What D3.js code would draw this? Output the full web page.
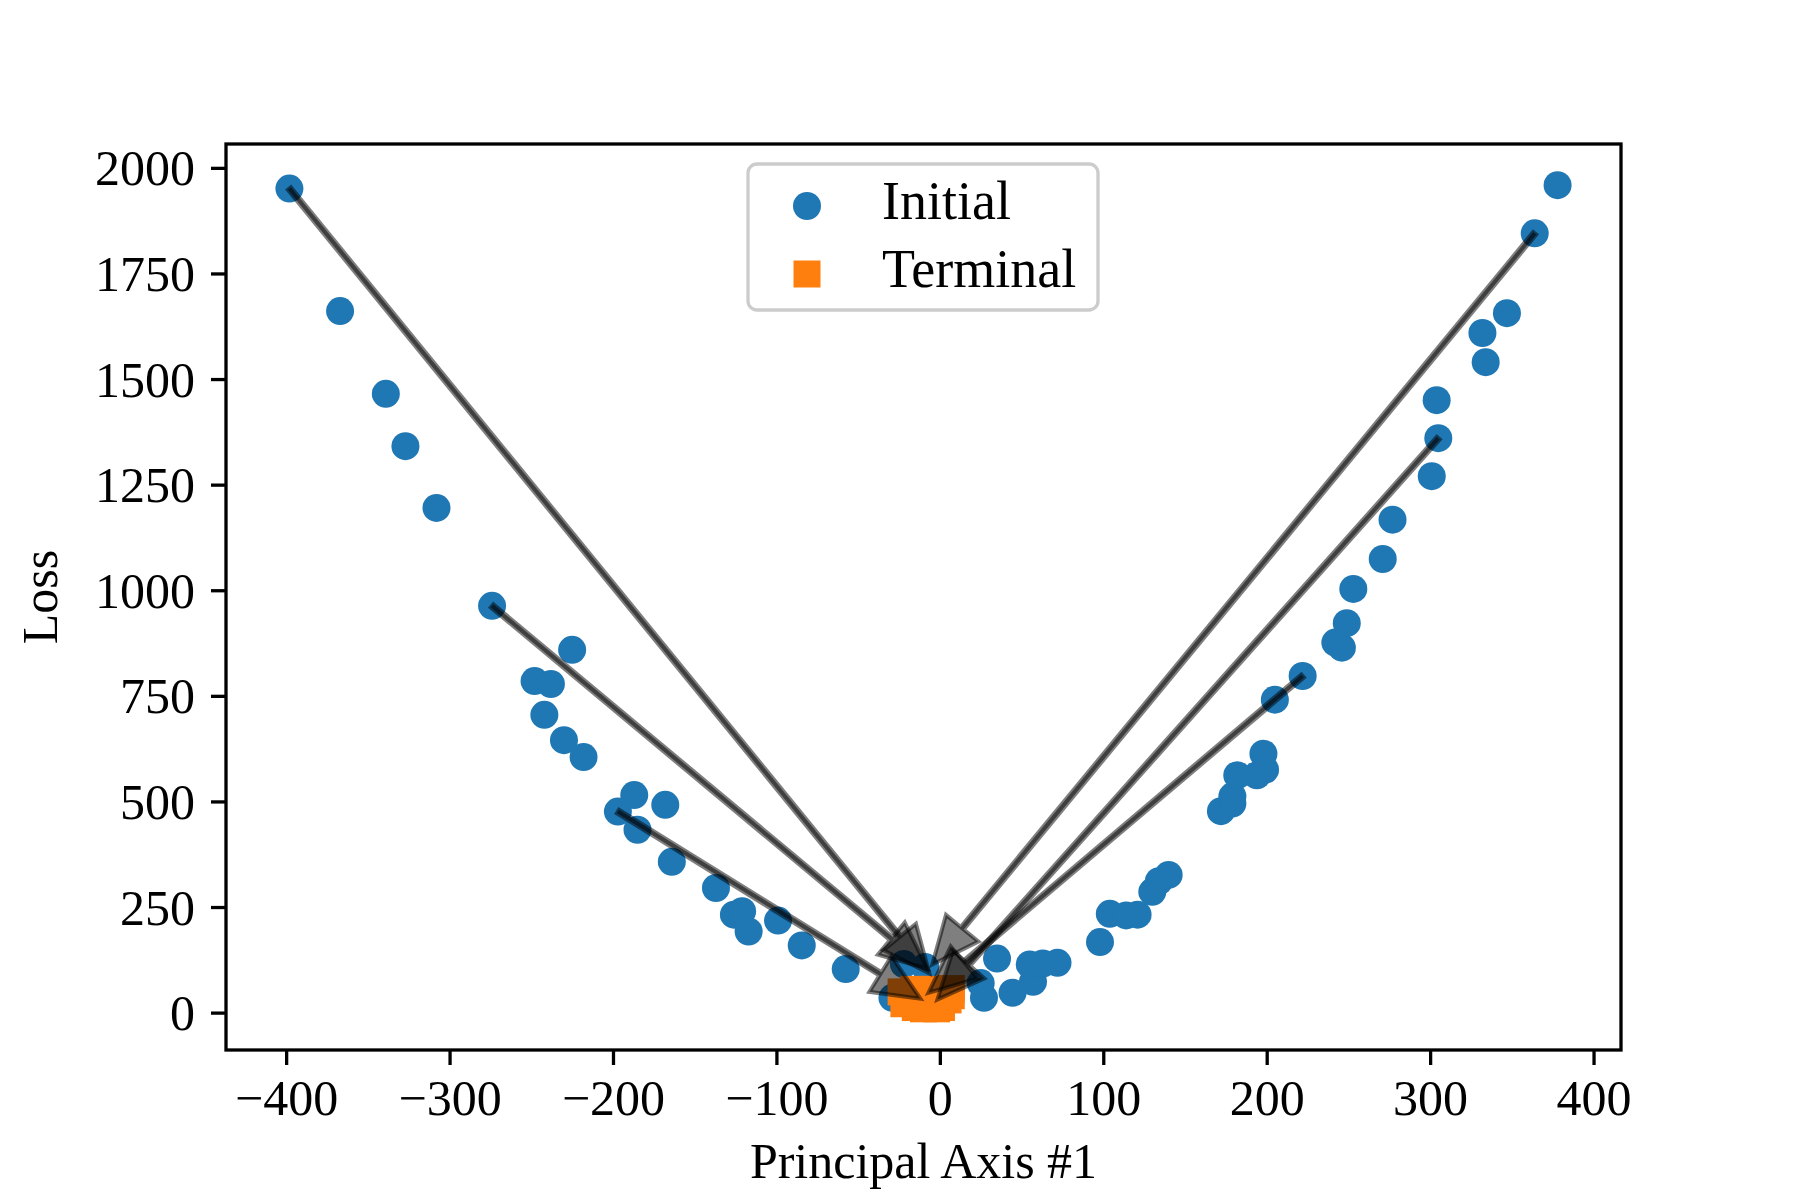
<!DOCTYPE html>
<html>
<head>
<meta charset="utf-8">
<script src="https://cdn.jsdelivr.net/npm/d3@7"></script>
<style>
  body { margin: 0; background: #fff; }
  text { font-family: "Liberation Serif", "Times New Roman", serif; fill: #000; }
</style>
</head>
<body>
<div id="chart"></div>
<script>
//Loss landscape: initial vs terminal points along principal axis #1

//initial points (blue circles)
var initialX = [-398, -367, -339, -327, -308, -274, -225, -248, -238, -242, -230, -218,
  -187, -197, -168, -185, -164, -137, -126, -121, -117, -99, -84.5, -57.6, -29, -22, -9,
  27, 25, 35, 44.5, 57, 55, 63, 72, 98, 104, 114, 121, 130, 134, 140,
  172, 179, 179, 182, 194, 198, 199, 205, 222, 242, 246, 249, 253, 271, 277,
  301, 305, 304, 334, 332, 347, 364, 378];
var initialY = [1951, 1661, 1465, 1341, 1195, 963, 859, 785, 778, 705, 645, 605,
  515, 476, 492, 433, 357, 295, 232, 240, 192, 218, 159, 103, 35, 115, 108,
  35, 70, 128, 47, 73, 114, 116, 118, 167, 234, 230, 232, 286, 311, 326,
  477, 495, 512, 562, 562, 613, 575, 741, 797, 876, 864, 922, 1003, 1074, 1167,
  1270, 1360, 1450, 1540, 1609, 1656, 1845, 1959];

//terminal points (orange squares)
var terminalX = [-23.7, -22, -18, -15, -12, -10, -8, -6, -3, -2, 0, 3, 5, 7, 7, -16, -5, 1];
var terminalY = [49, 21, 35, 12, 45, 9, 28, 15, 40, 9, 22, 50, 30, 57, 40, 55, 55, 12];

//arrows from initial to terminal
var arrowStartX = [-398, -274, -197, 364, 305, 222];
var arrowStartY = [1951, 963, 476, 1845, 1360, 797];
var arrowEndX = [-6.4, -7.6, -11.9, -4.6, -1.5, -7];
var arrowEndY = [93, 104, 33, 114, 31, 47];

var xTicks = [-400, -300, -200, -100, 0, 100, 200, 300, 400];
var yTicks = [0, 250, 500, 750, 1000, 1250, 1500, 1750, 2000];

var legendLabels = ["Initial", "Terminal"];

//figure config
var width = 1800, height = 1200;
var margin = {left: 226, right: 179, top: 144, bottom: 150};
var fontSize = 50;
var blue = "#1f77b4", orange = "#ff7f0e";
var markerR = 14;
var squareSide = 27;

var svg = d3.select("#chart").append("svg")
  .attr("width", width)
  .attr("height", height);

//matplotlib style 5% margins around the data
function padded(vals) {
  var lo = d3.min(vals), hi = d3.max(vals), pad = (hi - lo) * 0.05;
  return [lo - pad, hi + pad];
}
var allX = initialX.concat(terminalX), allY = initialY.concat(terminalY);

var x = d3.scaleLinear().domain(padded(allX)).range([margin.left, width - margin.right]);
var y = d3.scaleLinear().domain(padded(allY)).range([height - margin.bottom, margin.top]);

var minus = function(v) { return String(v).replace("-", "\u2212"); };

//scatter: initial
svg.append("g").selectAll("circle")
  .data(d3.range(initialX.length))
  .enter().append("circle")
  .attr("cx", function(i) { return x(initialX[i]); })
  .attr("cy", function(i) { return y(initialY[i]); })
  .attr("r", markerR)
  .attr("fill", blue);

//scatter: terminal
svg.append("g").selectAll("rect")
  .data(d3.range(terminalX.length))
  .enter().append("rect")
  .attr("x", function(i) { return x(terminalX[i]) - squareSide / 2; })
  .attr("y", function(i) { return y(terminalY[i]) - squareSide / 2; })
  .attr("width", squareSide)
  .attr("height", squareSide)
  .attr("fill", orange);

//arrows, built as one polygon each (shaft + head) in pixel space
var headLen = 47, headHalf = 21, shaftHalf = 2;
function arrowPath(i) {
  var sx = x(arrowStartX[i]), sy = y(arrowStartY[i]);
  var tx = x(arrowEndX[i]), ty = y(arrowEndY[i]);
  var dx = tx - sx, dy = ty - sy, len = Math.sqrt(dx * dx + dy * dy);
  var ux = dx / len, uy = dy / len, px = -uy, py = ux;
  var bx = tx - ux * headLen, by = ty - uy * headLen;
  var pts = [
    [sx + px * shaftHalf, sy + py * shaftHalf],
    [bx + px * shaftHalf, by + py * shaftHalf],
    [bx + px * headHalf, by + py * headHalf],
    [tx, ty],
    [bx - px * headHalf, by - py * headHalf],
    [bx - px * shaftHalf, by - py * shaftHalf],
    [sx - px * shaftHalf, sy - py * shaftHalf]
  ];
  return "M" + pts.map(function(p) { return p[0] + "," + p[1]; }).join("L") + "Z";
}
svg.append("g").selectAll("path")
  .data(d3.range(arrowStartX.length))
  .enter().append("path")
  .attr("d", arrowPath)
  .attr("fill", "rgba(0,0,0,0.5)")
  .attr("stroke", "rgba(0,0,0,0.5)")
  .attr("stroke-width", 4);

//axes
var xAxis = svg.append("g")
  .attr("transform", "translate(0," + (height - margin.bottom) + ")")
  .call(d3.axisBottom(x).tickValues(xTicks).tickSize(15).tickPadding(14).tickFormat(minus));
var yAxis = svg.append("g")
  .attr("transform", "translate(" + margin.left + ",0)")
  .call(d3.axisLeft(y).tickValues(yTicks).tickSize(15).tickPadding(16).tickFormat(minus));

[xAxis, yAxis].forEach(function(ax) {
  ax.select(".domain").remove();
  ax.selectAll(".tick line").attr("stroke", "#000").attr("stroke-width", 3.3);
  ax.selectAll(".tick text")
    .style("font-family", "'Liberation Serif', serif")
    .style("font-size", fontSize + "px");
});
xAxis.selectAll(".tick text").attr("dy", "0.72em");
yAxis.selectAll(".tick text").attr("dy", "0.34em");

//frame
svg.append("rect")
  .attr("x", margin.left)
  .attr("y", margin.top)
  .attr("width", width - margin.left - margin.right)
  .attr("height", height - margin.top - margin.bottom)
  .attr("fill", "none")
  .attr("stroke", "#000")
  .attr("stroke-width", 3.3);

//axis labels
svg.append("text")
  .attr("x", (margin.left + width - margin.right) / 2)
  .attr("y", 1178)
  .attr("text-anchor", "middle")
  .style("font-size", fontSize + "px")
  .text("Principal Axis #1");

svg.append("text")
  .attr("transform", "translate(57," + ((margin.top + height - margin.bottom) / 2) + ") rotate(-90)")
  .attr("text-anchor", "middle")
  .style("font-size", fontSize + "px")
  .text("Loss");

//legend
var legend = svg.append("g");
legend.append("rect")
  .attr("x", 748).attr("y", 164)
  .attr("width", 350).attr("height", 146)
  .attr("rx", 9).attr("ry", 9)
  .attr("fill", "rgba(255,255,255,0.8)")
  .attr("stroke", "#cccccc")
  .attr("stroke-width", 3.3);

var legendY = [206, 274];
legend.append("circle")
  .attr("cx", 807).attr("cy", legendY[0]).attr("r", markerR)
  .attr("fill", blue);
legend.append("rect")
  .attr("x", 807 - squareSide / 2).attr("y", legendY[1] - squareSide / 2)
  .attr("width", squareSide).attr("height", squareSide)
  .attr("fill", orange);
legend.selectAll("text.lbl")
  .data(legendLabels)
  .enter().append("text")
  .attr("class", "lbl")
  .attr("x", 882)
  .attr("y", function(d, i) { return legendY[i] + 13; })
  .style("font-size", "54px")
  .text(function(d) { return d; });
</script>
</body>
</html>
